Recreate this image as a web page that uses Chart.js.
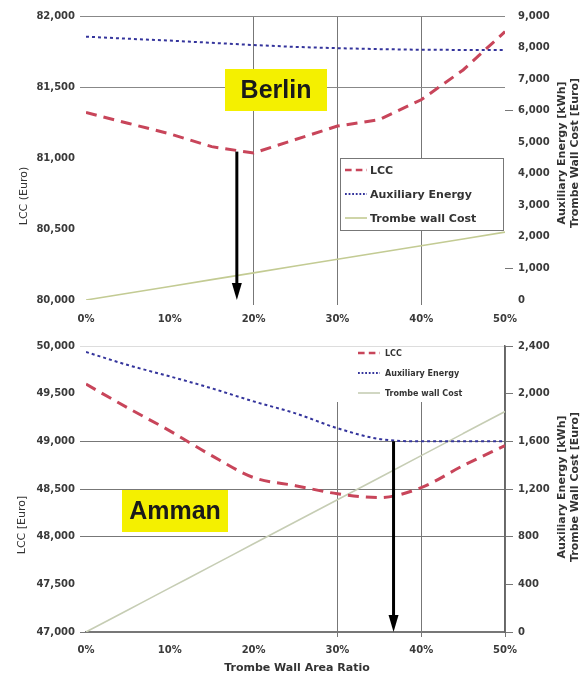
<!DOCTYPE html>
<html>
<head>
<meta charset="utf-8">
<script src="https://cdn.jsdelivr.net/npm/chart.js@4.4.0/dist/chart.umd.min.js"></script>
<style>
  body { margin: 0; background: #fff; }
  #wrap { position: relative; width: 582px; height: 677px; overflow: hidden; }
  canvas { position: absolute; left: 0; }
  #berlin { top: 0; }
  #amman { top: 335px; }
</style>
</head>
<body>
<div id="wrap">
  <canvas id="berlin" width="582" height="335"></canvas>
  <canvas id="amman" width="582" height="342"></canvas>
</div>
<script>
// --- data ---
const areaRatio = [0, 5, 10, 15, 20, 25, 30, 35, 40, 45, 50];
const ratioTicks = [0, 10, 20, 30, 40, 50];

// Berlin
const berlinLcc  = [81320, 81245, 81170, 81080, 81035, 81130, 81225, 81270, 81410, 81620, 81890];
const berlinAux  = [8345, 8280, 8220, 8150, 8080, 8020, 7980, 7950, 7930, 7925, 7920];
const berlinWall = [0, 215, 430, 645, 860, 1075, 1290, 1505, 1720, 1935, 2150];
const berlinLccTicks = [80000, 80500, 81000, 81500, 82000];
const berlinRightTicks = [0, 1000, 2000, 3000, 4000, 5000, 6000, 7000, 8000, 9000];
const berlinArrow = [18, 81045];   // ratio, LCC

// Amman
const ammanLcc  = [49600, 49350, 49110, 48850, 48620, 48535, 48450, 48410, 48515, 48745, 48955];
const ammanAux  = [2350, 2240, 2145, 2045, 1935, 1835, 1710, 1620, 1600, 1600, 1600];
const ammanWall = [0, 185, 370, 555, 740, 925, 1110, 1295, 1480, 1665, 1850];
const ammanLccTicks = [47000, 47500, 48000, 48500, 49000, 49500, 50000];
const ammanRightTicks = [0, 400, 800, 1200, 1600, 2000, 2400];
const ammanArrow = [36.7, 1600];   // ratio, auxiliary energy

const seriesNames = ['LCC', 'Auxiliary Energy', 'Trombe wall Cost'];

const TICK_FONT = { family: 'DejaVu Sans', size: 10, weight: 'bold' };
const TICK_COLOR = '#3a3a3a';
const NONE = 'rgba(0,0,0,0)';

function pts(values) {
  return areaRatio.map((r, i) => ({ x: r, y: values[i] }));
}
function fixedTicks(arr) {
  return s => { s.ticks = arr.map(v => ({ value: v })); };
}
function fmt(v) { return Number(v).toLocaleString('en-US'); }

// draws the yellow city label, the arrow, legend and axis titles
const decorPlugin = {
  id: 'decor',
  afterDraw(chart, args, o) {
    const { ctx, chartArea: a, scales } = chart;
    ctx.save();

    // city label
    const b = o.box;
    ctx.fillStyle = '#f4f000';
    ctx.fillRect(b.x, b.y, b.w, b.h);
    ctx.fillStyle = '#1a1a1a';
    ctx.font = 'bold 25px "Liberation Sans", Arial, sans-serif';
    ctx.textAlign = 'center';
    ctx.textBaseline = 'middle';
    ctx.fillText(b.text, b.x + b.w / 2, b.y + b.h / 2 + 1);

    // arrow at the optimum
    const ax = scales.x.getPixelForValue(o.arrow[0]);
    const ay = scales[o.arrowAxis].getPixelForValue(o.arrow[1]);
    ctx.strokeStyle = '#000';
    ctx.fillStyle = '#000';
    ctx.lineWidth = 3;
    ctx.beginPath();
    ctx.moveTo(ax, ay);
    ctx.lineTo(ax, a.bottom - 14);
    ctx.stroke();
    ctx.beginPath();
    ctx.moveTo(ax - 5, a.bottom - 17);
    ctx.lineTo(ax + 5, a.bottom - 17);
    ctx.lineTo(ax, a.bottom);
    ctx.closePath();
    ctx.fill();

    // legend
    const L = o.legend;
    ctx.fillStyle = '#fff';
    ctx.fillRect(L.x, L.y, L.w, L.h);
    if (L.border) {
      ctx.strokeStyle = L.border;
      ctx.lineWidth = 1;
      ctx.strokeRect(L.x + 0.5, L.y + 0.5, L.w, L.h);
    }
    ctx.font = 'bold ' + L.size + 'px "DejaVu Sans", sans-serif';
    ctx.textAlign = 'left';
    chart.data.datasets.forEach((ds, i) => {
      const y = L.y + L.first + i * L.row;
      ctx.strokeStyle = ds.borderColor;
      ctx.lineWidth = Math.min(ds.borderWidth, 2.5);
      ctx.setLineDash(ds.borderDash ? ds.borderDash.map(d => d * 0.6) : []);
      ctx.beginPath();
      ctx.moveTo(L.sx, y);
      ctx.lineTo(L.sx + L.sw, y);
      ctx.stroke();
      ctx.setLineDash([]);
      ctx.fillStyle = '#333';
      ctx.fillText(ds.label, L.tx, y + 1);
    });

    // axis titles
    ctx.fillStyle = '#333';
    ctx.font = '11px "DejaVu Sans", sans-serif';
    ctx.textAlign = 'center';
    o.titles.forEach(t => {
      ctx.save();
      ctx.translate(t.x, t.y);
      if (t.rot) ctx.rotate(-Math.PI / 2);
      ctx.font = (t.bold ? 'bold ' : '') + '11px "DejaVu Sans", sans-serif';
      ctx.fillText(t.text, 0, 0);
      ctx.restore();
    });

    ctx.restore();
  }
};

function buildChart(id, c) {
  return new Chart(document.getElementById(id), {
    type: 'line',
    data: {
      datasets: [
        { label: seriesNames[0], data: pts(c.lcc), yAxisID: 'y',
          borderColor: '#c8455a', borderWidth: 3, borderDash: [11, 7] },
        { label: seriesNames[1], data: pts(c.aux), yAxisID: 'y2',
          borderColor: '#34349c', borderWidth: 2, borderDash: [3, 3] },
        { label: seriesNames[2], data: pts(c.wall), yAxisID: 'y2',
          borderColor: c.wallColor, borderWidth: 1.6 }
      ]
    },
    options: {
      responsive: false,
      animation: false,
      layout: { padding: { top: c.padTop, left: 0, right: 0, bottom: 0 } },
      elements: {
        point: { radius: 0 },
        line: { tension: c.smooth ? 0.4 : 0, cubicInterpolationMode: c.smooth ? 'monotone' : 'default' }
      },
      plugins: { legend: { display: false }, tooltip: { enabled: false }, decor: c.decor },
      scales: {
        x: {
          type: 'linear', min: 0, max: 50,
          afterBuildTicks: fixedTicks(ratioTicks),
          afterFit: s => { s.height = c.xHeight; },
          ticks: { font: TICK_FONT, color: TICK_COLOR, padding: c.xPad, maxRotation: 0,
                   callback: v => v + '%' },
          grid: { color: ctx => c.vGrid.includes(ctx.tick.value) ? '#777' : NONE,
                  tickLength: 5 },
          border: c.xBorder
        },
        y: {
          position: 'left',
          min: c.lccTicks[0], max: c.lccTicks[c.lccTicks.length - 1],
          afterBuildTicks: fixedTicks(c.lccTicks),
          afterFit: s => { s.width = 86; },
          ticks: { font: TICK_FONT, color: TICK_COLOR, padding: 5, callback: fmt },
          grid: { color: ctx => c.hGrid[ctx.tick.value] || NONE, tickLength: 6 },
          border: { display: false }
        },
        y2: {
          position: 'right',
          min: c.rightTicks[0], max: c.rightTicks[c.rightTicks.length - 1],
          afterBuildTicks: fixedTicks(c.rightTicks),
          afterFit: s => { s.width = 77; },
          ticks: { font: TICK_FONT, color: TICK_COLOR, padding: 5, callback: fmt },
          grid: { drawOnChartArea: false, tickLength: 8,
                  tickColor: ctx => c.rightTickMarks.includes(ctx.tick.value) ? '#777' : NONE },
          border: c.rightBorder
        }
      }
    },
    plugins: [decorPlugin]
  });
}

buildChart('berlin', {
  lcc: berlinLcc, aux: berlinAux, wall: berlinWall,
  lccTicks: berlinLccTicks, rightTicks: berlinRightTicks,
  wallColor: '#c3cb93', smooth: false,
  padTop: 16, xHeight: 35, xPad: 8,
  vGrid: [20, 30, 40],
  hGrid: { 82000: '#888', 81500: '#888' },
  rightTickMarks: [6000, 1000],
  xBorder: { display: false },
  rightBorder: { display: false },
  decor: {
    box: { text: 'Berlin', x: 225, y: 69, w: 102, h: 42 },
    arrow: berlinArrow, arrowAxis: 'y',
    legend: { x: 340, y: 158, w: 163, h: 72, first: 12, row: 24, sx: 345, sw: 22, tx: 370, size: 11, border: '#777' },
    titles: [
      { text: 'LCC (Euro)', x: 24, y: 196, rot: true },
      { text: 'Auxiliary Energy [kWh]', x: 562, y: 153, rot: true, bold: true },
      { text: 'Trombe Wall Cost [Euro]', x: 575, y: 153, rot: true, bold: true }
    ]
  }
});

buildChart('amman', {
  lcc: ammanLcc, aux: ammanAux, wall: ammanWall,
  lccTicks: ammanLccTicks, rightTicks: ammanRightTicks,
  wallColor: '#c6cdb4', smooth: true,
  padTop: 10, xHeight: 45, xPad: 7,
  vGrid: [30, 40, 50],
  hGrid: { 50000: '#ddd', 49000: '#777', 48500: '#777', 48000: '#777', 47000: '#777' },
  rightTickMarks: [0, 400, 800, 1200, 1600, 2000, 2400],
  xBorder: { display: true, color: '#777', width: 2 },
  rightBorder: { display: true, color: '#666', width: 1.5 },
  decor: {
    box: { text: 'Amman', x: 122, y: 155, w: 106, h: 42 },
    arrow: ammanArrow, arrowAxis: 'y2',
    legend: { x: 330, y: 12, w: 160, h: 55, first: 6, row: 20, sx: 358, sw: 22, tx: 385, size: 8, border: null },
    titles: [
      { text: 'LCC [Euro]', x: 22, y: 190, rot: true },
      { text: 'Auxiliary Energy [kWh]', x: 562, y: 152, rot: true, bold: true },
      { text: 'Trombe Wall Cost [Euro]', x: 575, y: 152, rot: true, bold: true },
      { text: 'Trombe Wall Area Ratio', x: 297, y: 333, rot: false, bold: true }
    ]
  }
});
</script>
</body>
</html>
